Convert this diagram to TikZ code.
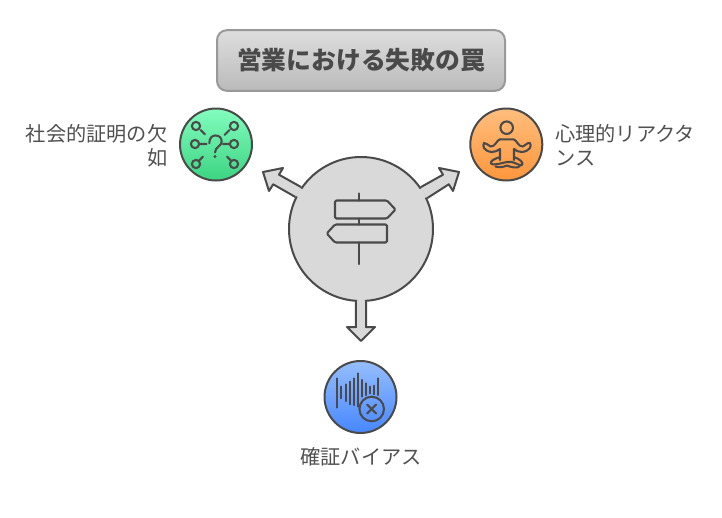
\documentclass[tikz,border=0pt]{standalone}
\usepackage{fontspec}
\setmainfont{Noto Sans CJK JP}
\begin{document}
\begin{tikzpicture}[x=0.75pt,y=-0.75pt,
  ink/.style={line width=1.5pt,draw=inkc,line join=round},
  iconline/.style={line width=1.55pt,draw=inkc,line cap=round,line join=round},
  disc/.style={circle,ink,inner sep=0pt,minimum size=54pt},
  lbl/.style={font=\fontsize{15.15pt}{18pt}\selectfont,text=lblc,inner sep=0pt},
  arrowbody/.style={ink,fill=hubc},
]
\definecolor{inkc}{HTML}{4A4A4A}
\definecolor{lblc}{HTML}{505050}
\definecolor{hubc}{HTML}{D9D9D9}
\useasboundingbox (0,0) rectangle (722,518);
% title
\node[rounded corners=7.5pt,draw=black!40,line width=1.5pt,top color=black!13,bottom color=black!27,
  minimum width=216pt,minimum height=45.5pt,inner sep=0pt,text=inkc,
  font=\fontsize{18.6pt}{22pt}\selectfont\bfseries] (title) at (361,60.5) {営業における失敗の罠};
% hub and arrows
\node[circle,arrowbody,inner sep=0pt,minimum size=108pt] (hub) at (361,229) {};
\coordinate (tipL) at (263,172);
\coordinate (tipR) at (459,172);
\coordinate (tipB) at (361,341);
\draw[arrowbody] (hub.145) -- (279,174.7) -- (283,168) -- (tipL) -- (269,191) -- (273.2,184.3) -- (hub.154.5);
\draw[arrowbody] (hub.35) -- (443,174.7) -- (439,168) -- (tipR) -- (453,191) -- (448.8,184.3) -- (hub.25.5);
\draw[arrowbody] (hub.266) -- (356,327) -- (347,327) -- (tipB) -- (375,327) -- (366,327) -- (hub.274);
% open the arrows into the hub
\fill[hubc] (hub.146) -- (hub.153.5) -- (hub.center) -- cycle;
\fill[hubc] (hub.34) -- (hub.26.5) -- (hub.center) -- cycle;
\fill[hubc] (hub.267) -- (hub.273) -- (hub.center) -- cycle;
% sign icon
\draw[iconline] (359.3,193.5) -- (359.3,200.5) (359.3,218.5) -- (359.3,224.5) (359.3,242.5) -- (359.3,264);
\draw[iconline,rounded corners=1pt] (335,200.5) -- (387,200.5) -- (395.5,209.5) -- (387,218.5) -- (335,218.5) -- cycle;
\draw[iconline,rounded corners=1pt] (387,224.5) -- (335,224.5) -- (326.7,233.5) -- (335,242.5) -- (387,242.5) -- cycle;
% green
\node[disc,top color={rgb,255:red,130;green,253;blue,190},bottom color={rgb,255:red,60;green,212;blue,130}] (social) at (216,144.5) {};
\foreach \x/\y in {196/126,234/126,195/144,234/144,196/164,234/164}
  \draw[iconline] (\x,\y) circle[radius=3.1pt];
\draw[iconline] (200.7,130) -- (205,134.3) (229.5,130) -- (224.5,135)
  (200,144) -- (206.7,144) (223,144) -- (229,144)
  (199,160.7) -- (203,156.7) (227,156.7) -- (231,160.7);
\draw[iconline] (209.3,143.3) .. controls (209.3,138) and (212,135.5) .. (215.5,135.5)
  .. controls (219.5,135.5) and (221.7,138) .. (221.7,141.7)
  .. controls (221.7,146) and (215,147) .. (215,152.5);
\fill[inkc] (215,156.5) circle[radius=1.2pt];
% orange
\node[disc,top color={rgb,255:red,255;green,190;blue,125},bottom color={rgb,255:red,255;green,150;blue,60}] (react) at (506.3,144.5) {};
\draw[iconline] (506.7,127.7) circle[radius=4.7pt];
\draw[iconline] (500,139.3) -- (513.5,139.3)
  .. controls (517,140) and (518,147) .. (523,146.5)
  .. controls (526,146) and (526,142.5) .. (530,143)
  .. controls (532,146) and (530,151) .. (522,152)
  .. controls (519,152) and (516,151) .. (514,149) -- (514,160);
\draw[iconline] (500,139.3)
  .. controls (496.5,140) and (495.5,147) .. (490.5,146.5)
  .. controls (487.5,146) and (487.5,142.5) .. (484,143)
  .. controls (482,146) and (484,151) .. (491.5,152)
  .. controls (494.5,152) and (497.5,151) .. (500,149) -- (500,160);
\draw[iconline] (500,157) .. controls (494,159) and (490,161) .. (491,163.5)
  .. controls (493,165.5) and (498,164) .. (507,162)
  .. controls (514,160.5) and (518,166) .. (522,165)
  .. controls (524,163) and (520,159) .. (514,157);
\draw[iconline] (495.5,166.5) .. controls (500,168) and (503,167) .. (507,165.5)
  .. controls (510,167) and (518,169) .. (520,166);
% blue
\node[disc,top color={rgb,255:red,150;green,190;blue,255},bottom color={rgb,255:red,70;green,135;blue,255}] (confirm) at (360.5,397) {};
\foreach \x/\a/\b in {337.3/378.3/407.7,341.3/386.7/398.3,345.7/384.3/401,349.7/381.7/404.3,354/378.3/405,358/373.3/406.7,362.3/380/396.7,366.3/383.3/395,370/386.7/393.3,374/385.7/394.3,378.3/378.3/395}
  \draw[iconline] (\x,\a) -- (\x,\b);
\draw[iconline] (371.7,409) circle[radius=9.2pt];
\draw[iconline] (367.2,404.5) -- (376.2,413.5) (376.2,404.5) -- (367.2,413.5);
% labels
\node[lbl,anchor=north east,align=right] (socialt) at (167.5,124) {社会的証明の欠\\如};
\node[lbl,anchor=north west,align=left] (reactt) at (555,124) {心理的リアクタ\\ンス};
\node[lbl] (confirmt) at (361,456.5) {確証バイアス};
\end{tikzpicture}
\end{document}
